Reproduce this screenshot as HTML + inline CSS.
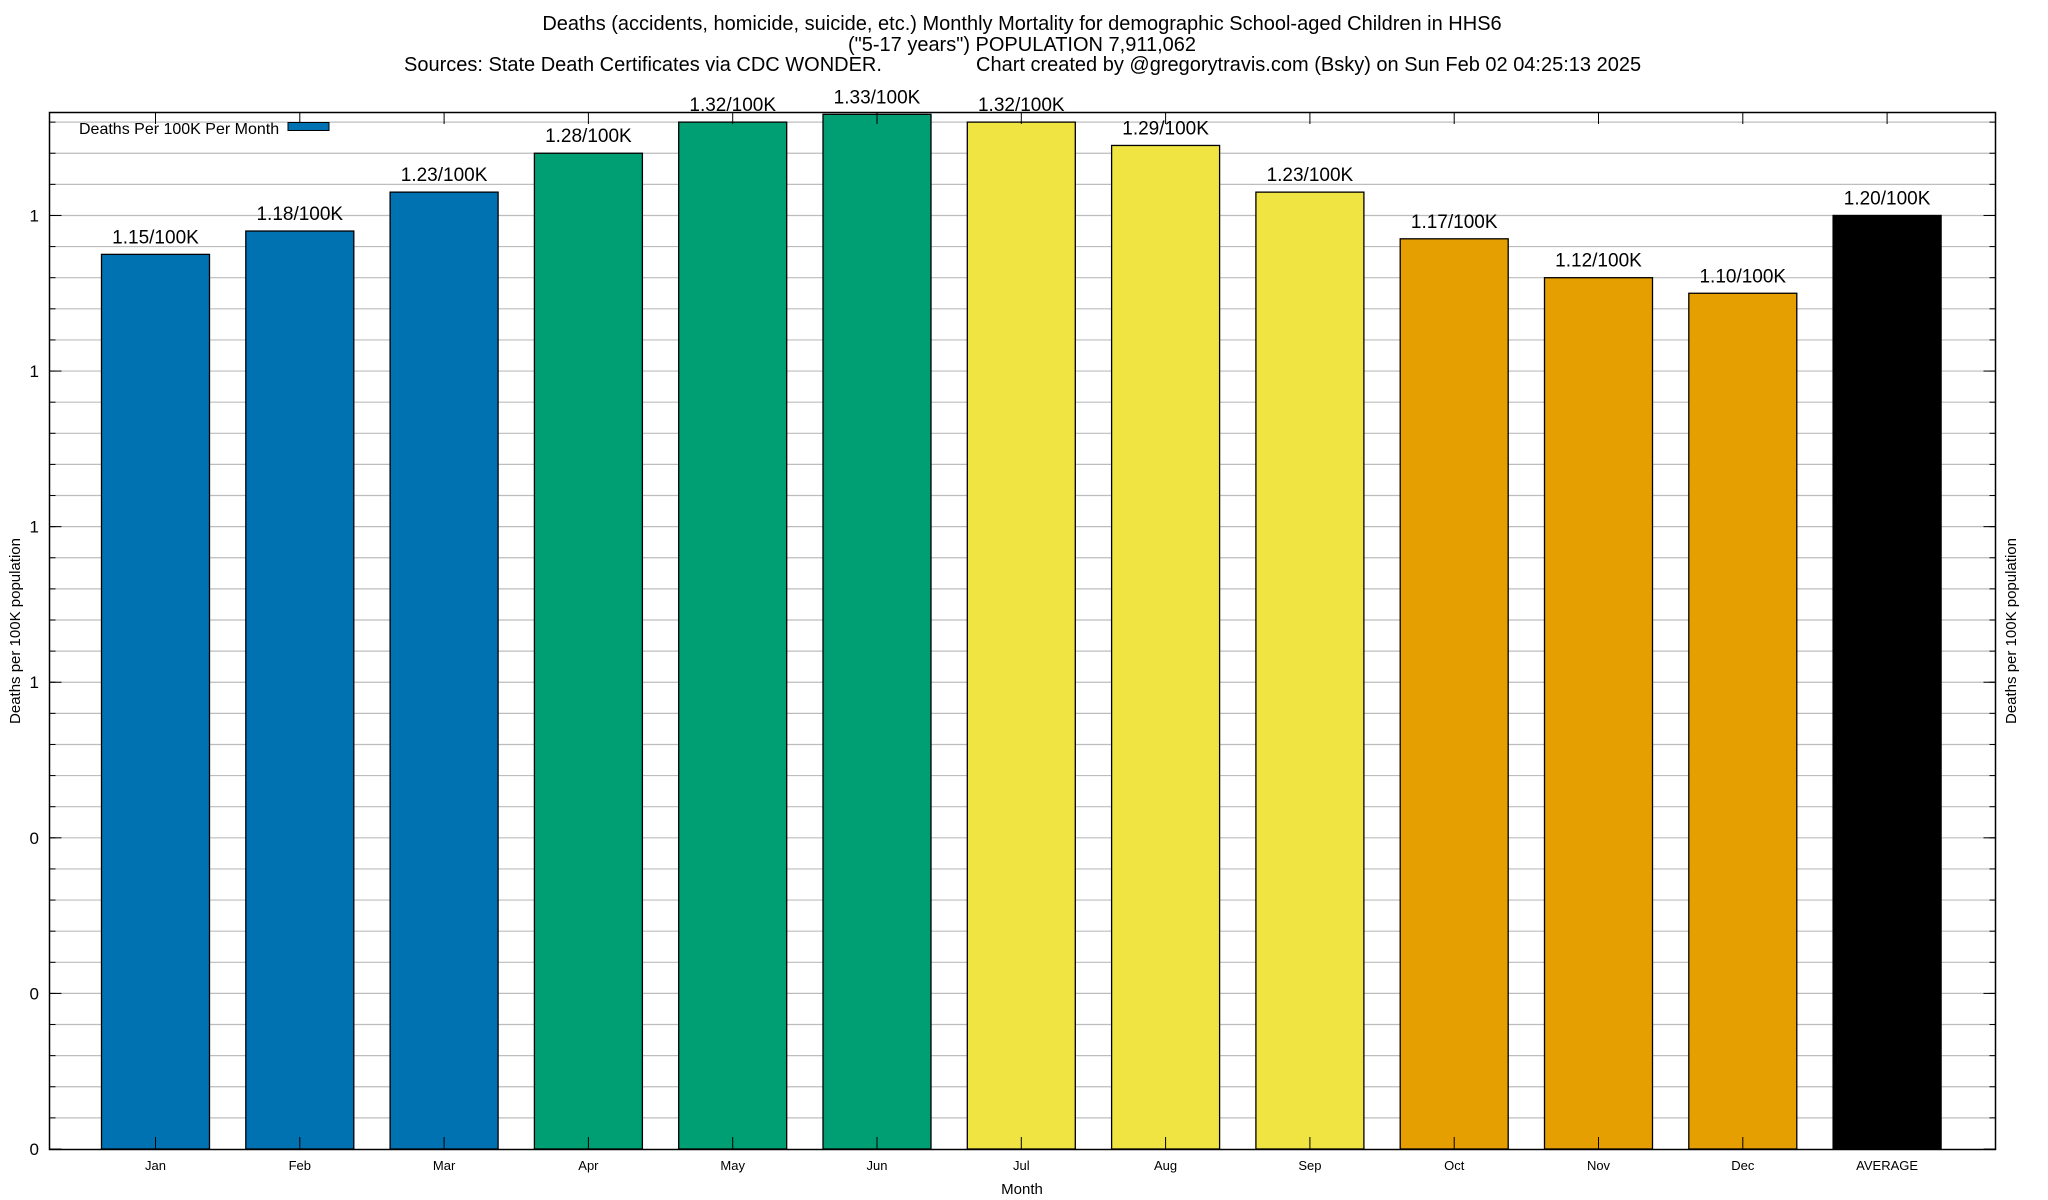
<!DOCTYPE html>
<html><head><meta charset="utf-8"><style>
html,body{margin:0;padding:0;background:#fff}
svg{display:block;font-family:"Liberation Sans",Arial,sans-serif}
</style></head><body>
<svg id="chart" width="2048" height="1200" viewBox="0 0 2048 1200">
<g font-size="20" text-anchor="middle">
<text x="1022" y="30">Deaths (accidents, homicide, suicide, etc.) Monthly Mortality for demographic School-aged Children in HHS6</text>
<text x="1022" y="51">("5-17 years") POPULATION 7,911,062</text>
<text x="404" y="71" text-anchor="start">Sources: State Death Certificates via CDC WONDER.</text>
<text x="976" y="71" text-anchor="start">Chart created by @gregorytravis.com (Bsky) on Sun Feb 02 04:25:13 2025</text>
</g>
<g id="grid"></g>
<g id="bars"></g>
<g id="axes"></g>
<rect x="49.5" y="112.5" width="1946" height="1037" fill="none" stroke="#000" stroke-width="1.5"/>
<g>
<text x="79" y="134" font-size="16">Deaths Per 100K Per Month</text>
<rect x="288" y="122.5" width="41" height="8" fill="#0072b2" stroke="#000"/>
</g>
<text x="20" y="631" font-size="15" text-anchor="middle" transform="rotate(-90 20 631)">Deaths per 100K population</text>
<text x="2016" y="631" font-size="15" text-anchor="middle" transform="rotate(-90 2016 631)">Deaths per 100K population</text>
<text x="1022" y="1194" font-size="15" text-anchor="middle">Month</text>
</svg>
<script>
const categories = ["Jan","Feb","Mar","Apr","May","Jun","Jul","Aug","Sep","Oct","Nov","Dec","AVERAGE"];
const values = [1.15,1.18,1.23,1.28,1.32,1.33,1.32,1.29,1.23,1.17,1.12,1.10,1.20];
const valueLabels = ["1.15/100K","1.18/100K","1.23/100K","1.28/100K","1.32/100K","1.33/100K","1.32/100K","1.29/100K","1.23/100K","1.17/100K","1.12/100K","1.10/100K","1.20/100K"];
const colors = ["#0072b2","#0072b2","#0072b2","#009e73","#009e73","#009e73","#f0e442","#f0e442","#f0e442","#e69f00","#e69f00","#e69f00","#000000"];
const yTicks = [0,0.2,0.4,0.6,0.8,1.0,1.2];
const yTickLabels = ["0","0","0","1","1","1","1"];
const NS="http://www.w3.org/2000/svg";
const L=49.5,R=1995.5,T=112,B=1149,YMAX=1.333;
const y=v=>B-(v/YMAX)*(B-T);
const step=144.3, x0=155.5, bw=108;
const x=i=>x0+i*step;
function mk(tag,attrs,parent){const e=document.createElementNS(NS,tag);for(const k in attrs)e.setAttribute(k,attrs[k]);parent.appendChild(e);return e;}
const grid=document.getElementById('grid'),bars=document.getElementById('bars'),axes=document.getElementById('axes');
for(let v=0.04;v<YMAX;v+=0.04){
  const g=mk('line',{x1:L,x2:R,y1:y(v),y2:y(v),stroke:'#bdbdbd','stroke-width':1.2},grid);
  
  
  const t1=mk('line',{x1:L,x2:L+6,y1:y(v),y2:y(v),stroke:'#000'},axes);
  
  
  const t2=mk('line',{x1:R-6,x2:R,y1:y(v),y2:y(v),stroke:'#000'},axes);
  
  
}
yTicks.forEach((v,i)=>{
  const t=mk('line',{x1:L,x2:L+12,y1:y(v),y2:y(v),stroke:'#000'},axes);
  
  
  const t2=mk('line',{x1:R-12,x2:R,y1:y(v),y2:y(v),stroke:'#000'},axes);
  
  
  const lb=mk('text',{x:39,y:y(v)+6,'font-size':17,'text-anchor':'end'},axes);
  lb.textContent=yTickLabels[i];
  
  
});
categories.forEach((c,i)=>{
  const r=mk('rect',{x:x(i)-bw/2,y:y(values[i]),width:bw,height:B-y(values[i]),fill:colors[i],stroke:'#000','stroke-width':1.3},bars);
  
  
  const vl=mk('text',{x:x(i),y:y(values[i])-11,'font-size':19,'text-anchor':'middle'},bars);
  vl.textContent=valueLabels[i];
  
  
  const tk=mk('line',{x1:x(i),x2:x(i),y1:B,y2:B-12,stroke:'#000'},axes);
  
  
  const tk2=mk('line',{x1:x(i),x2:x(i),y1:T,y2:T+12,stroke:'#000'},axes);
  
  
  const xl=mk('text',{x:x(i),y:1170,'font-size':13,'text-anchor':'middle'},axes);
  xl.textContent=c;
  
  
});
</script>
</body></html>
